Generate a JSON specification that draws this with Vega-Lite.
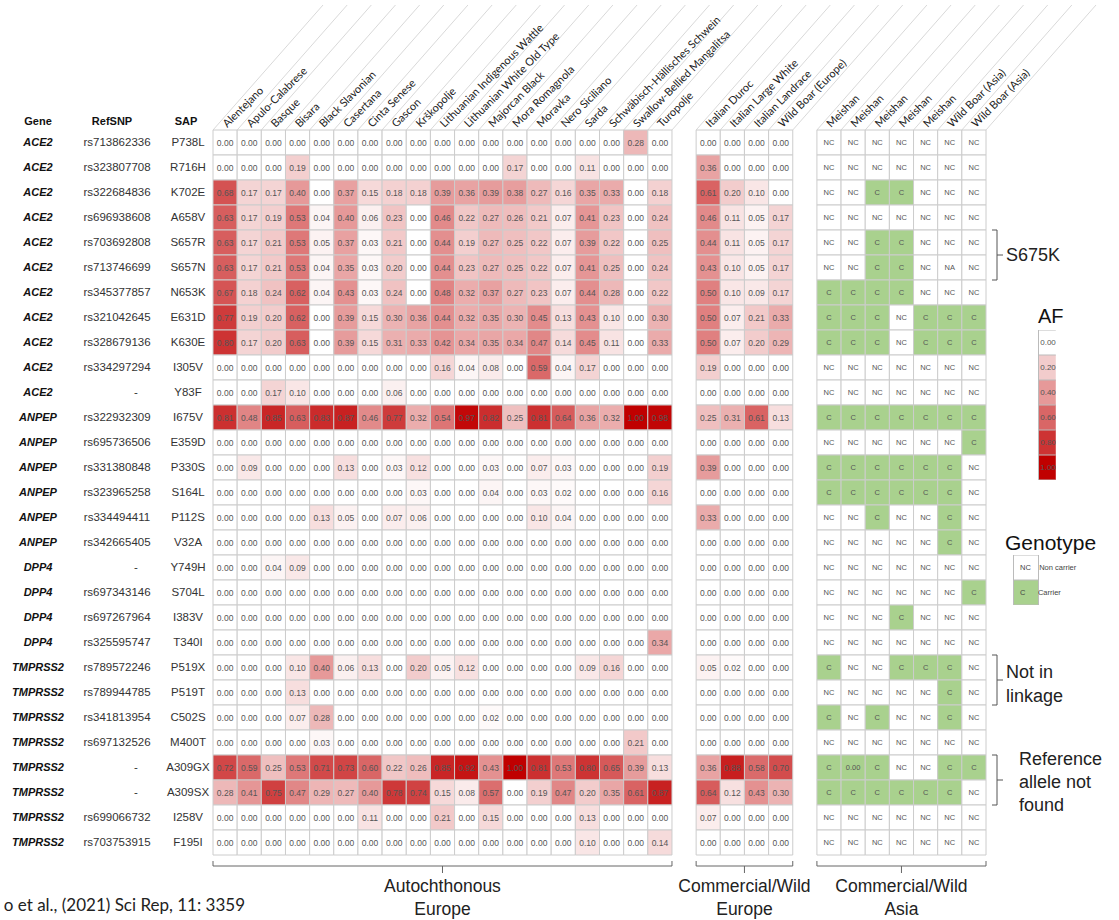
{
"$schema":"https://vega.github.io/schema/vega-lite/v6.json",
"autosize":{"type":"none"},
"padding":{"left":213,"top":130,"right":133,"bottom":65},
"width":773,"height":725,
"config":{"view":{"stroke":null},"font":"Liberation Sans"},
"datasets":{
"variants":[
{"gene":"ACE2","rs":"rs713862336","sap":"P738L","a1":0,"a2":0,"a3":0,"a4":0,"a5":0,"a6":0,"a7":0,"a8":0,"a9":0,"a10":0,"a11":0,"a12":0,"a13":0,"a14":0,"a15":0,"a16":0,"a17":0,"a18":0.28,"a19":0,"e1":0,"e2":0,"e3":0,"e4":0,"m1":"NC","m2":"NC","m3":"NC","m4":"NC","m5":"NC","m6":"NC","m7":"NC"},
{"gene":"ACE2","rs":"rs323807708","sap":"R716H","a1":0,"a2":0,"a3":0,"a4":0.19,"a5":0,"a6":0,"a7":0,"a8":0,"a9":0,"a10":0,"a11":0,"a12":0,"a13":0.17,"a14":0,"a15":0,"a16":0.11,"a17":0,"a18":0,"a19":0,"e1":0.36,"e2":0,"e3":0,"e4":0,"m1":"NC","m2":"NC","m3":"NC","m4":"NC","m5":"NC","m6":"NC","m7":"NC"},
{"gene":"ACE2","rs":"rs322684836","sap":"K702E","a1":0.68,"a2":0.17,"a3":0.17,"a4":0.40,"a5":0,"a6":0.37,"a7":0.15,"a8":0.18,"a9":0.18,"a10":0.39,"a11":0.36,"a12":0.39,"a13":0.38,"a14":0.27,"a15":0.16,"a16":0.35,"a17":0.33,"a18":0,"a19":0.18,"e1":0.61,"e2":0.20,"e3":0.10,"e4":0,"m1":"NC","m2":"NC","m3":"C","m4":"C","m5":"NC","m6":"NC","m7":"NC"},
{"gene":"ACE2","rs":"rs696938608","sap":"A658V","a1":0.63,"a2":0.17,"a3":0.19,"a4":0.53,"a5":0.04,"a6":0.40,"a7":0.06,"a8":0.23,"a9":0,"a10":0.46,"a11":0.22,"a12":0.27,"a13":0.26,"a14":0.21,"a15":0.07,"a16":0.41,"a17":0.23,"a18":0,"a19":0.24,"e1":0.46,"e2":0.11,"e3":0.05,"e4":0.17,"m1":"NC","m2":"NC","m3":"NC","m4":"NC","m5":"NC","m6":"NC","m7":"NC"},
{"gene":"ACE2","rs":"rs703692808","sap":"S657R","a1":0.63,"a2":0.17,"a3":0.21,"a4":0.53,"a5":0.05,"a6":0.37,"a7":0.03,"a8":0.21,"a9":0,"a10":0.44,"a11":0.19,"a12":0.27,"a13":0.25,"a14":0.22,"a15":0.07,"a16":0.39,"a17":0.22,"a18":0,"a19":0.25,"e1":0.44,"e2":0.11,"e3":0.05,"e4":0.17,"m1":"NC","m2":"NC","m3":"C","m4":"C","m5":"NC","m6":"NC","m7":"NC"},
{"gene":"ACE2","rs":"rs713746699","sap":"S657N","a1":0.63,"a2":0.17,"a3":0.21,"a4":0.53,"a5":0.04,"a6":0.35,"a7":0.03,"a8":0.20,"a9":0,"a10":0.44,"a11":0.23,"a12":0.27,"a13":0.25,"a14":0.22,"a15":0.07,"a16":0.41,"a17":0.25,"a18":0,"a19":0.24,"e1":0.43,"e2":0.10,"e3":0.05,"e4":0.17,"m1":"NC","m2":"NC","m3":"C","m4":"C","m5":"NC","m6":"NA","m7":"NC"},
{"gene":"ACE2","rs":"rs345377857","sap":"N653K","a1":0.67,"a2":0.18,"a3":0.24,"a4":0.62,"a5":0.04,"a6":0.43,"a7":0.03,"a8":0.24,"a9":0,"a10":0.48,"a11":0.32,"a12":0.37,"a13":0.27,"a14":0.23,"a15":0.07,"a16":0.44,"a17":0.28,"a18":0,"a19":0.22,"e1":0.50,"e2":0.10,"e3":0.09,"e4":0.17,"m1":"C","m2":"C","m3":"C","m4":"C","m5":"NC","m6":"NC","m7":"NC"},
{"gene":"ACE2","rs":"rs321042645","sap":"E631D","a1":0.77,"a2":0.19,"a3":0.20,"a4":0.62,"a5":0,"a6":0.39,"a7":0.15,"a8":0.30,"a9":0.36,"a10":0.44,"a11":0.32,"a12":0.35,"a13":0.30,"a14":0.45,"a15":0.13,"a16":0.43,"a17":0.10,"a18":0,"a19":0.30,"e1":0.50,"e2":0.07,"e3":0.21,"e4":0.33,"m1":"C","m2":"C","m3":"C","m4":"NC","m5":"C","m6":"C","m7":"C"},
{"gene":"ACE2","rs":"rs328679136","sap":"K630E","a1":0.80,"a2":0.17,"a3":0.20,"a4":0.63,"a5":0,"a6":0.39,"a7":0.15,"a8":0.31,"a9":0.33,"a10":0.42,"a11":0.34,"a12":0.35,"a13":0.34,"a14":0.47,"a15":0.14,"a16":0.45,"a17":0.11,"a18":0,"a19":0.33,"e1":0.50,"e2":0.07,"e3":0.20,"e4":0.29,"m1":"C","m2":"C","m3":"C","m4":"NC","m5":"C","m6":"C","m7":"C"},
{"gene":"ACE2","rs":"rs334297294","sap":"I305V","a1":0,"a2":0,"a3":0,"a4":0,"a5":0,"a6":0,"a7":0,"a8":0,"a9":0,"a10":0.16,"a11":0.04,"a12":0.08,"a13":0,"a14":0.59,"a15":0.04,"a16":0.17,"a17":0,"a18":0,"a19":0,"e1":0.19,"e2":0,"e3":0,"e4":0,"m1":"NC","m2":"NC","m3":"NC","m4":"NC","m5":"NC","m6":"NC","m7":"NC"},
{"gene":"ACE2","rs":"-","sap":"Y83F","a1":0,"a2":0,"a3":0.17,"a4":0.10,"a5":0,"a6":0,"a7":0,"a8":0.06,"a9":0,"a10":0,"a11":0,"a12":0,"a13":0,"a14":0,"a15":0,"a16":0,"a17":0,"a18":0,"a19":0,"e1":0,"e2":0,"e3":0,"e4":0,"m1":"NC","m2":"NC","m3":"NC","m4":"NC","m5":"NC","m6":"NC","m7":"NC"},
{"gene":"ANPEP","rs":"rs322932309","sap":"I675V","a1":0.81,"a2":0.48,"a3":0.85,"a4":0.63,"a5":0.83,"a6":0.87,"a7":0.46,"a8":0.77,"a9":0.32,"a10":0.54,"a11":0.97,"a12":0.82,"a13":0.25,"a14":0.81,"a15":0.64,"a16":0.36,"a17":0.32,"a18":1.00,"a19":0.98,"e1":0.25,"e2":0.31,"e3":0.61,"e4":0.13,"m1":"C","m2":"C","m3":"C","m4":"C","m5":"C","m6":"C","m7":"C"},
{"gene":"ANPEP","rs":"rs695736506","sap":"E359D","a1":0,"a2":0,"a3":0,"a4":0,"a5":0,"a6":0,"a7":0,"a8":0,"a9":0,"a10":0,"a11":0,"a12":0,"a13":0,"a14":0,"a15":0,"a16":0,"a17":0,"a18":0,"a19":0,"e1":0,"e2":0,"e3":0,"e4":0,"m1":"NC","m2":"NC","m3":"NC","m4":"NC","m5":"NC","m6":"NC","m7":"C"},
{"gene":"ANPEP","rs":"rs331380848","sap":"P330S","a1":0,"a2":0.09,"a3":0,"a4":0,"a5":0,"a6":0.13,"a7":0,"a8":0.03,"a9":0.12,"a10":0,"a11":0,"a12":0.03,"a13":0,"a14":0.07,"a15":0.03,"a16":0,"a17":0,"a18":0,"a19":0.19,"e1":0.39,"e2":0,"e3":0,"e4":0,"m1":"C","m2":"C","m3":"C","m4":"C","m5":"C","m6":"C","m7":"NC"},
{"gene":"ANPEP","rs":"rs323965258","sap":"S164L","a1":0,"a2":0,"a3":0,"a4":0,"a5":0,"a6":0,"a7":0,"a8":0,"a9":0.03,"a10":0,"a11":0,"a12":0.04,"a13":0,"a14":0.03,"a15":0.02,"a16":0,"a17":0,"a18":0,"a19":0.16,"e1":0,"e2":0,"e3":0,"e4":0,"m1":"C","m2":"C","m3":"C","m4":"C","m5":"C","m6":"C","m7":"NC"},
{"gene":"ANPEP","rs":"rs334494411","sap":"P112S","a1":0,"a2":0,"a3":0,"a4":0,"a5":0.13,"a6":0.05,"a7":0,"a8":0.07,"a9":0.06,"a10":0,"a11":0,"a12":0,"a13":0,"a14":0.10,"a15":0.04,"a16":0,"a17":0,"a18":0,"a19":0,"e1":0.33,"e2":0,"e3":0,"e4":0,"m1":"NC","m2":"NC","m3":"C","m4":"NC","m5":"NC","m6":"C","m7":"NC"},
{"gene":"ANPEP","rs":"rs342665405","sap":"V32A","a1":0,"a2":0,"a3":0,"a4":0,"a5":0,"a6":0,"a7":0,"a8":0,"a9":0,"a10":0,"a11":0,"a12":0,"a13":0,"a14":0,"a15":0,"a16":0,"a17":0,"a18":0,"a19":0,"e1":0,"e2":0,"e3":0,"e4":0,"m1":"NC","m2":"NC","m3":"NC","m4":"NC","m5":"NC","m6":"C","m7":"NC"},
{"gene":"DPP4","rs":"-","sap":"Y749H","a1":0,"a2":0,"a3":0.04,"a4":0.09,"a5":0,"a6":0,"a7":0,"a8":0,"a9":0,"a10":0,"a11":0,"a12":0,"a13":0,"a14":0,"a15":0,"a16":0,"a17":0,"a18":0,"a19":0,"e1":0,"e2":0,"e3":0,"e4":0,"m1":"NC","m2":"NC","m3":"NC","m4":"NC","m5":"NC","m6":"NC","m7":"NC"},
{"gene":"DPP4","rs":"rs697343146","sap":"S704L","a1":0,"a2":0,"a3":0,"a4":0,"a5":0,"a6":0,"a7":0,"a8":0,"a9":0,"a10":0,"a11":0,"a12":0,"a13":0,"a14":0,"a15":0,"a16":0,"a17":0,"a18":0,"a19":0,"e1":0,"e2":0,"e3":0,"e4":0,"m1":"NC","m2":"NC","m3":"NC","m4":"NC","m5":"NC","m6":"NC","m7":"C"},
{"gene":"DPP4","rs":"rs697267964","sap":"I383V","a1":0,"a2":0,"a3":0,"a4":0,"a5":0,"a6":0,"a7":0,"a8":0,"a9":0,"a10":0,"a11":0,"a12":0,"a13":0,"a14":0,"a15":0,"a16":0,"a17":0,"a18":0,"a19":0,"e1":0,"e2":0,"e3":0,"e4":0,"m1":"NC","m2":"NC","m3":"NC","m4":"C","m5":"NC","m6":"NC","m7":"NC"},
{"gene":"DPP4","rs":"rs325595747","sap":"T340I","a1":0,"a2":0,"a3":0,"a4":0,"a5":0,"a6":0,"a7":0,"a8":0,"a9":0,"a10":0,"a11":0,"a12":0,"a13":0,"a14":0,"a15":0,"a16":0,"a17":0,"a18":0,"a19":0.34,"e1":0,"e2":0,"e3":0,"e4":0,"m1":"NC","m2":"NC","m3":"NC","m4":"NC","m5":"NC","m6":"NC","m7":"NC"},
{"gene":"TMPRSS2","rs":"rs789572246","sap":"P519X","a1":0,"a2":0,"a3":0,"a4":0.10,"a5":0.40,"a6":0.06,"a7":0.13,"a8":0,"a9":0.20,"a10":0.05,"a11":0.12,"a12":0,"a13":0,"a14":0,"a15":0,"a16":0.09,"a17":0.16,"a18":0,"a19":0,"e1":0.05,"e2":0.02,"e3":0,"e4":0,"m1":"C","m2":"NC","m3":"NC","m4":"C","m5":"C","m6":"C","m7":"NC"},
{"gene":"TMPRSS2","rs":"rs789944785","sap":"P519T","a1":0,"a2":0,"a3":0,"a4":0.13,"a5":0,"a6":0,"a7":0,"a8":0,"a9":0,"a10":0,"a11":0,"a12":0,"a13":0,"a14":0,"a15":0,"a16":0,"a17":0,"a18":0,"a19":0,"e1":0,"e2":0,"e3":0,"e4":0,"m1":"NC","m2":"NC","m3":"NC","m4":"NC","m5":"NC","m6":"C","m7":"NC"},
{"gene":"TMPRSS2","rs":"rs341813954","sap":"C502S","a1":0,"a2":0,"a3":0,"a4":0.07,"a5":0.28,"a6":0,"a7":0,"a8":0,"a9":0,"a10":0,"a11":0,"a12":0.02,"a13":0,"a14":0,"a15":0,"a16":0,"a17":0,"a18":0,"a19":0,"e1":0,"e2":0,"e3":0,"e4":0,"m1":"C","m2":"NC","m3":"C","m4":"NC","m5":"NC","m6":"C","m7":"NC"},
{"gene":"TMPRSS2","rs":"rs697132526","sap":"M400T","a1":0,"a2":0,"a3":0,"a4":0,"a5":0.03,"a6":0,"a7":0,"a8":0,"a9":0,"a10":0,"a11":0,"a12":0,"a13":0,"a14":0,"a15":0,"a16":0,"a17":0,"a18":0.21,"a19":0,"e1":0,"e2":0,"e3":0,"e4":0,"m1":"NC","m2":"NC","m3":"NC","m4":"NC","m5":"NC","m6":"NC","m7":"NC"},
{"gene":"TMPRSS2","rs":"-","sap":"A309GX","a1":0.72,"a2":0.59,"a3":0.25,"a4":0.53,"a5":0.71,"a6":0.73,"a7":0.60,"a8":0.22,"a9":0.26,"a10":0.85,"a11":0.92,"a12":0.43,"a13":1.00,"a14":0.81,"a15":0.53,"a16":0.80,"a17":0.65,"a18":0.39,"a19":0.13,"e1":0.36,"e2":0.88,"e3":0.58,"e4":0.70,"m1":"C","m2":"0.00","m3":"C","m4":"NC","m5":"NC","m6":"C","m7":"C"},
{"gene":"TMPRSS2","rs":"-","sap":"A309SX","a1":0.28,"a2":0.41,"a3":0.75,"a4":0.47,"a5":0.29,"a6":0.27,"a7":0.40,"a8":0.78,"a9":0.74,"a10":0.15,"a11":0.08,"a12":0.57,"a13":0,"a14":0.19,"a15":0.47,"a16":0.20,"a17":0.35,"a18":0.61,"a19":0.87,"e1":0.64,"e2":0.12,"e3":0.43,"e4":0.30,"m1":"C","m2":"C","m3":"C","m4":"C","m5":"C","m6":"C","m7":"NC"},
{"gene":"TMPRSS2","rs":"rs699066732","sap":"I258V","a1":0,"a2":0,"a3":0,"a4":0,"a5":0,"a6":0,"a7":0.11,"a8":0,"a9":0,"a10":0.21,"a11":0,"a12":0.15,"a13":0,"a14":0,"a15":0,"a16":0.13,"a17":0,"a18":0,"a19":0,"e1":0.07,"e2":0,"e3":0,"e4":0,"m1":"NC","m2":"NC","m3":"NC","m4":"NC","m5":"NC","m6":"NC","m7":"NC"},
{"gene":"TMPRSS2","rs":"rs703753915","sap":"F195I","a1":0,"a2":0,"a3":0,"a4":0,"a5":0,"a6":0,"a7":0,"a8":0,"a9":0,"a10":0,"a11":0,"a12":0,"a13":0,"a14":0,"a15":0,"a16":0.10,"a17":0,"a18":0,"a19":0.14,"e1":0,"e2":0,"e3":0,"e4":0,"m1":"NC","m2":"NC","m3":"NC","m4":"NC","m5":"NC","m6":"NC","m7":"NC"}
],
"columns":[{"key":"a1","name":"Alentejano","label":"Alentejano"},{"key":"a2","name":"Apulo-Calabrese","label":"Apulo-Calabrese"},{"key":"a3","name":"Basque","label":"Basque"},{"key":"a4","name":"Bisara","label":"Bisara"},{"key":"a5","name":"Black Slavonian","label":"Black Slavonian"},{"key":"a6","name":"Casertana","label":"Casertana"},{"key":"a7","name":"Cinta Senese","label":"Cinta Senese"},{"key":"a8","name":"Gascon","label":"Gascon"},{"key":"a9","name":"Krškopolje","label":"Krškopolje"},{"key":"a10","name":"Lithuanian Indigenous Wattle","label":"Lithuanian Indigenous Wattle"},{"key":"a11","name":"Lithuanian White Old Type","label":"Lithuanian White Old Type"},{"key":"a12","name":"Majorcan Black","label":"Majorcan Black"},{"key":"a13","name":"Mora Romagnola","label":"Mora Romagnola"},{"key":"a14","name":"Moravka","label":"Moravka"},{"key":"a15","name":"Nero Siciliano","label":"Nero Siciliano"},{"key":"a16","name":"Sarda","label":"Sarda"},{"key":"a17","name":"Schwäbisch-Hällisches Schwein","label":"Schwäbisch-Hällisches Schwein"},{"key":"a18","name":"Swallow-Bellied Mangalitsa","label":"Swallow-Bellied Mangalitsa"},{"key":"a19","name":"Turopolje","label":"Turopolje"},{"key":"g1","name":"gap1","label":""},{"key":"e1","name":"Italian Duroc","label":"Italian Duroc"},{"key":"e2","name":"Italian Large White","label":"Italian Large White"},{"key":"e3","name":"Italian Landrace","label":"Italian Landrace"},{"key":"e4","name":"Wild Boar (Europe)","label":"Wild Boar (Europe)"},{"key":"g2","name":"gap2","label":""},{"key":"m1","name":"Meishan 1","label":"Meishan"},{"key":"m2","name":"Meishan 2","label":"Meishan"},{"key":"m3","name":"Meishan 3","label":"Meishan"},{"key":"m4","name":"Meishan 4","label":"Meishan"},{"key":"m5","name":"Meishan 5","label":"Meishan"},{"key":"m6","name":"Wild Boar (Asia) 1","label":"Wild Boar (Asia)"},{"key":"m7","name":"Wild Boar (Asia) 2","label":"Wild Boar (Asia)"}],
"brackets":[{"top":"S657R","bot":"S657N","label":"S675K"},{"top":"P519X","bot":"P519T","label":"Not in\nlinkage"},{"top":"A309GX","bot":"A309SX","label":"Reference\nallele not\nfound"}],
"groups":[{"label":"Autochthonous\nEurope","first":"Alentejano","last":"Turopolje","mid":"Lithuanian Indigenous Wattle"},{"label":"Commercial/Wild\nEurope","first":"Italian Duroc","last":"Wild Boar (Europe)","mid":"Italian Landrace"},{"label":"Commercial/Wild\nAsia","first":"Meishan 1","last":"Wild Boar (Asia) 2","mid":"Meishan 4"}]
},
"layer":[
{"data":{"name":"columns"},
 "mark":{"type":"rule","color":"#d9d9d9","strokeWidth":1,"x2Offset":110,"y2Offset":-125},
 "encoding":{
  "x":{"field":"name","type":"nominal","bandPosition":0,
   "scale":{"type":"band","domain":["Alentejano","Apulo-Calabrese","Basque","Bisara","Black Slavonian","Casertana","Cinta Senese","Gascon","Krškopolje","Lithuanian Indigenous Wattle","Lithuanian White Old Type","Majorcan Black","Mora Romagnola","Moravka","Nero Siciliano","Sarda","Schwäbisch-Hällisches Schwein","Swallow-Bellied Mangalitsa","Turopolje","gap1","Italian Duroc","Italian Large White","Italian Landrace","Wild Boar (Europe)","gap2","Meishan 1","Meishan 2","Meishan 3","Meishan 4","Meishan 5","Wild Boar (Asia) 1","Wild Boar (Asia) 2"],"paddingInner":0,"paddingOuter":0},
   "axis":null},
  "x2":{"field":"name","bandPosition":0},
  "y":{"datum":"P738L","type":"nominal","bandPosition":0,
   "scale":{"type":"band","domain":["P738L","R716H","K702E","A658V","S657R","S657N","N653K","E631D","K630E","I305V","Y83F","I675V","E359D","P330S","S164L","P112S","V32A","Y749H","S704L","I383V","T340I","P519X","P519T","C502S","M400T","A309GX","A309SX","I258V","F195I"],"paddingInner":0,"paddingOuter":0},"axis":null},
  "y2":{"datum":"P738L","bandPosition":0}}},
{"data":{"values":[{}]},
 "mark":{"type":"rule","color":"#d9d9d9","strokeWidth":1,"x2Offset":110,"y2Offset":-125},
 "encoding":{"x":{"datum":"Wild Boar (Asia) 2","type":"nominal","bandPosition":1,"axis":null},"x2":{"datum":"Wild Boar (Asia) 2","bandPosition":1},"y":{"datum":"P738L","type":"nominal","bandPosition":0,"axis":null},"y2":{"datum":"P738L","bandPosition":0}}},
{"data":{"name":"columns"},
 "transform":[{"filter":"datum.label != ''"}],
 "mark":{"type":"text","angle":-45,"align":"left","baseline":"middle","yOffset":-4,"xOffset":0,"font":"Lato","fontSize":11,"color":"#222222"},
 "encoding":{"x":{"field":"name","type":"nominal","axis":null},"y":{"datum":"P738L","type":"nominal","bandPosition":0,"axis":null},"text":{"field":"label"}}},
{"data":{"name":"variants"},
 "transform":[{"fold":["a1","a2","a3","a4","a5","a6","a7","a8","a9","a10","a11","a12","a13","a14","a15","a16","a17","a18","a19","e1","e2","e3","e4"],"as":["key","af"]},{"lookup":"key","from":{"data":{"name":"columns"},"key":"key","fields":["name"]}}],
 "layer":[
  {"mark":{"type":"rect","stroke":"#cccccc","strokeWidth":1},
   "encoding":{
    "x":{"field":"name","type":"nominal","axis":null},
    "y":{"field":"sap","type":"nominal","axis":null},
    "color":{"field":"af","type":"quantitative","scale":{"domain":[0,1],"range":["#ffffff","#c00000"],"interpolate":"rgb"},
     "legend":{"title":"AF","orient":"none","legendX":825,"legendY":177,"type":"symbol","values":[0,0.2,0.4,0.6,0.8,1],"format":".2f","direction":"vertical","symbolType":"square","symbolSize":625,"clipHeight":25,"symbolStrokeColor":"#bbbbbb","symbolStrokeWidth":1,"symbolOpacity":1,"labelAlign":"center","labelOffset":-16,"labelFontSize":8,"labelColor":"#555555","titleFont":"Liberation Sans","titleFontSize":20,"titleFontWeight":"normal","titleColor":"#111111","titleAnchor":"start","titlePadding":3,"rowPadding":0,"padding":0}}}},
  {"mark":{"type":"text","fontSize":8.5,"color":"#555555"},
   "encoding":{"x":{"field":"name","type":"nominal","axis":null},"y":{"field":"sap","type":"nominal","axis":null},"text":{"field":"af","type":"quantitative","format":".2f"}}}
 ]},
{"data":{"name":"variants"},
 "transform":[{"fold":["m1","m2","m3","m4","m5","m6","m7"],"as":["key","gt"]},{"lookup":"key","from":{"data":{"name":"columns"},"key":"key","fields":["name"]}}],
 "layer":[
  {"mark":{"type":"rect","stroke":"#cccccc","strokeWidth":1},
   "encoding":{
    "x":{"field":"name","type":"nominal","axis":null},
    "y":{"field":"sap","type":"nominal","axis":null},
    "color":{"field":"gt","type":"nominal","scale":{"domain":["NC","C","NA","0.00"],"range":["#ffffff","#a9d18e","#ffffff","#a9d18e"]},
     "legend":{"title":"Genotype","orient":"none","legendX":792,"legendY":403,"values":["NC","C"],"symbolType":"square","symbolSize":625,"clipHeight":25,"symbolStrokeColor":"#bbbbbb","symbolStrokeWidth":1,"symbolOpacity":1,"symbolOffset":8,"labelAlign":"left","labelOffset":-19,"labelFontSize":7.5,"labelColor":"#444444","labelExpr":"datum.value == 'NC' ? 'NC\u00a0\u00a0\u00a0\u00a0Non carrier' : '\u00a0C\u00a0\u00a0\u00a0\u00a0\u00a0\u00a0Carrier'","titleFont":"Liberation Sans","titleFontSize":21,"titleFontWeight":"normal","titleColor":"#111111","titleAnchor":"start","titlePadding":1,"rowPadding":0,"padding":0}}}},
  {"mark":{"type":"text","fontSize":7.5,"color":"#555555"},
   "encoding":{"x":{"field":"name","type":"nominal","axis":null},"y":{"field":"sap","type":"nominal","axis":null},"text":{"field":"gt"}}}
 ]},
{"data":{"name":"variants"},
 "mark":{"type":"text","xOffset":-175,"fontSize":11,"fontWeight":"bold","fontStyle":"italic","color":"#111111","align":"center"},
 "encoding":{"x":{"datum":"Alentejano","type":"nominal","bandPosition":0,"axis":null},"y":{"field":"sap","type":"nominal","axis":null},"text":{"field":"gene"}}},
{"data":{"name":"variants"},
 "transform":[{"filter":"datum.rs != '-'"}],
 "mark":{"type":"text","xOffset":-96,"fontSize":11.5,"color":"#333333","align":"center"},
 "encoding":{"x":{"datum":"Alentejano","type":"nominal","bandPosition":0,"axis":null},"y":{"field":"sap","type":"nominal","axis":null},"text":{"field":"rs"}}},
{"data":{"name":"variants"},
 "transform":[{"filter":"datum.rs == '-'"}],
 "mark":{"type":"text","xOffset":-77,"fontSize":11.5,"color":"#333333","align":"center"},
 "encoding":{"x":{"datum":"Alentejano","type":"nominal","bandPosition":0,"axis":null},"y":{"field":"sap","type":"nominal","axis":null},"text":{"field":"rs"}}},
{"data":{"name":"variants"},
 "mark":{"type":"text","xOffset":-25,"fontSize":11.5,"color":"#333333","align":"center"},
 "encoding":{"x":{"datum":"Alentejano","type":"nominal","bandPosition":0,"axis":null},"y":{"field":"sap","type":"nominal","axis":null},"text":{"field":"sap"}}},
{"data":{"values":[{"h":"Gene"}]},
 "mark":{"type":"text","xOffset":-175,"yOffset":-8,"fontSize":11,"fontWeight":"bold","color":"#111111","align":"center"},
 "encoding":{"x":{"datum":"Alentejano","type":"nominal","bandPosition":0,"axis":null},"y":{"datum":"P738L","type":"nominal","bandPosition":0,"axis":null},"text":{"field":"h"}}},
{"data":{"values":[{"h":"RefSNP"}]},
 "mark":{"type":"text","xOffset":-101,"yOffset":-8,"fontSize":11,"fontWeight":"bold","color":"#111111","align":"center"},
 "encoding":{"x":{"datum":"Alentejano","type":"nominal","bandPosition":0,"axis":null},"y":{"datum":"P738L","type":"nominal","bandPosition":0,"axis":null},"text":{"field":"h"}}},
{"data":{"values":[{"h":"SAP"}]},
 "mark":{"type":"text","xOffset":-27,"yOffset":-8,"fontSize":11,"fontWeight":"bold","color":"#111111","align":"center"},
 "encoding":{"x":{"datum":"Alentejano","type":"nominal","bandPosition":0,"axis":null},"y":{"datum":"P738L","type":"nominal","bandPosition":0,"axis":null},"text":{"field":"h"}}},
{"data":{"name":"brackets"},
 "mark":{"type":"rule","color":"#555555","strokeWidth":1,"xOffset":11},
 "encoding":{"x":{"datum":"Wild Boar (Asia) 2","type":"nominal","bandPosition":1,"axis":null},"y":{"field":"top","type":"nominal","bandPosition":0,"axis":null},"y2":{"field":"bot","bandPosition":1}}},
{"data":{"name":"brackets"},
 "mark":{"type":"rule","color":"#555555","strokeWidth":1,"xOffset":6,"x2Offset":11},
 "encoding":{"x":{"datum":"Wild Boar (Asia) 2","type":"nominal","bandPosition":1,"axis":null},"x2":{"datum":"Wild Boar (Asia) 2","bandPosition":1},"y":{"field":"top","type":"nominal","bandPosition":0,"axis":null}}},
{"data":{"name":"brackets"},
 "mark":{"type":"rule","color":"#555555","strokeWidth":1,"xOffset":6,"x2Offset":11},
 "encoding":{"x":{"datum":"Wild Boar (Asia) 2","type":"nominal","bandPosition":1,"axis":null},"x2":{"datum":"Wild Boar (Asia) 2","bandPosition":1},"y":{"field":"bot","type":"nominal","bandPosition":1,"axis":null}}},
{"data":{"name":"brackets"},
 "mark":{"type":"rule","color":"#555555","strokeWidth":1,"xOffset":11,"x2Offset":17},
 "encoding":{"x":{"datum":"Wild Boar (Asia) 2","type":"nominal","bandPosition":1,"axis":null},"x2":{"datum":"Wild Boar (Asia) 2","bandPosition":1},"y":{"field":"bot","type":"nominal","bandPosition":0,"axis":null}}},
{"data":{"name":"brackets"},
 "transform":[{"filter":"datum.top == 'S657R'"}],
 "mark":{"type":"text","xOffset":20,"yOffset":1,"align":"left","baseline":"middle","fontSize":18,"lineHeight":23,"lineBreak":"\n","color":"#222222"},
 "encoding":{"x":{"datum":"Wild Boar (Asia) 2","type":"nominal","bandPosition":1,"axis":null},"y":{"field":"bot","type":"nominal","bandPosition":0,"axis":null},"text":{"field":"label"}}},
{"data":{"name":"brackets"},
 "transform":[{"filter":"datum.top == 'P519X'"}],
 "mark":{"type":"text","xOffset":20,"yOffset":-7,"align":"left","baseline":"middle","fontSize":18,"lineHeight":24,"lineBreak":"\n","color":"#222222"},
 "encoding":{"x":{"datum":"Wild Boar (Asia) 2","type":"nominal","bandPosition":1,"axis":null},"y":{"field":"bot","type":"nominal","bandPosition":0,"axis":null},"text":{"field":"label"}}},
{"data":{"name":"brackets"},
 "transform":[{"filter":"datum.top == 'A309GX'"}],
 "mark":{"type":"text","xOffset":33,"yOffset":-20,"align":"left","baseline":"middle","fontSize":18,"lineHeight":23,"lineBreak":"\n","color":"#222222"},
 "encoding":{"x":{"datum":"Wild Boar (Asia) 2","type":"nominal","bandPosition":1,"axis":null},"y":{"field":"bot","type":"nominal","bandPosition":0,"axis":null},"text":{"field":"label"}}},
{"data":{"name":"groups"},
 "mark":{"type":"rule","color":"#666666","strokeWidth":1,"yOffset":11},
 "encoding":{"x":{"field":"first","type":"nominal","bandPosition":0,"axis":null},"x2":{"field":"last","bandPosition":1},"y":{"datum":"F195I","type":"nominal","bandPosition":1,"axis":null}}},
{"data":{"name":"groups"},
 "mark":{"type":"rule","color":"#666666","strokeWidth":1,"yOffset":6,"y2Offset":11},
 "encoding":{"x":{"field":"first","type":"nominal","bandPosition":0,"axis":null},"y":{"datum":"F195I","type":"nominal","bandPosition":1,"axis":null},"y2":{"datum":"F195I","bandPosition":1}}},
{"data":{"name":"groups"},
 "mark":{"type":"rule","color":"#666666","strokeWidth":1,"yOffset":6,"y2Offset":11},
 "encoding":{"x":{"field":"last","type":"nominal","bandPosition":1,"axis":null},"y":{"datum":"F195I","type":"nominal","bandPosition":1,"axis":null},"y2":{"datum":"F195I","bandPosition":1}}},
{"data":{"name":"groups"},
 "transform":[{"filter":"datum.first != 'Italian Duroc'"}],
 "layer":[
  {"mark":{"type":"rule","color":"#666666","strokeWidth":1,"yOffset":11,"y2Offset":18},
   "encoding":{"x":{"field":"mid","type":"nominal","bandPosition":0.5,"axis":null},"y":{"datum":"F195I","type":"nominal","bandPosition":1,"axis":null},"y2":{"datum":"F195I","bandPosition":1}}},
  {"mark":{"type":"text","yOffset":32,"align":"center","baseline":"middle","font":"Liberation Sans","fontSize":17.5,"lineHeight":23,"lineBreak":"\n","color":"#222222"},
   "encoding":{"x":{"field":"mid","type":"nominal","bandPosition":0.5,"axis":null},"y":{"datum":"F195I","type":"nominal","bandPosition":1,"axis":null},"text":{"field":"label"}}}
 ]},
{"data":{"name":"groups"},
 "transform":[{"filter":"datum.first == 'Italian Duroc'"}],
 "layer":[
  {"mark":{"type":"rule","color":"#666666","strokeWidth":1,"yOffset":11,"y2Offset":18},
   "encoding":{"x":{"field":"mid","type":"nominal","bandPosition":0,"axis":null},"y":{"datum":"F195I","type":"nominal","bandPosition":1,"axis":null},"y2":{"datum":"F195I","bandPosition":1}}},
  {"mark":{"type":"text","yOffset":32,"align":"center","baseline":"middle","font":"Liberation Sans","fontSize":17.5,"lineHeight":23,"lineBreak":"\n","color":"#222222"},
   "encoding":{"x":{"field":"mid","type":"nominal","bandPosition":0,"axis":null},"y":{"datum":"F195I","type":"nominal","bandPosition":1,"axis":null},"text":{"field":"label"}}}
 ]},
{"data":{"values":[{"c":"o et al., (2021) Sci Rep, 11: 3359"}]},
 "mark":{"type":"text","xOffset":32,"yOffset":51,"align":"right","baseline":"middle","font":"Lato","fontSize":17,"color":"#222222"},
 "encoding":{"x":{"datum":"Alentejano","type":"nominal","bandPosition":0,"axis":null},"y":{"datum":"F195I","type":"nominal","bandPosition":1,"axis":null},"text":{"field":"c"}}}
],
"resolve":{"scale":{"color":"independent"}}
}
